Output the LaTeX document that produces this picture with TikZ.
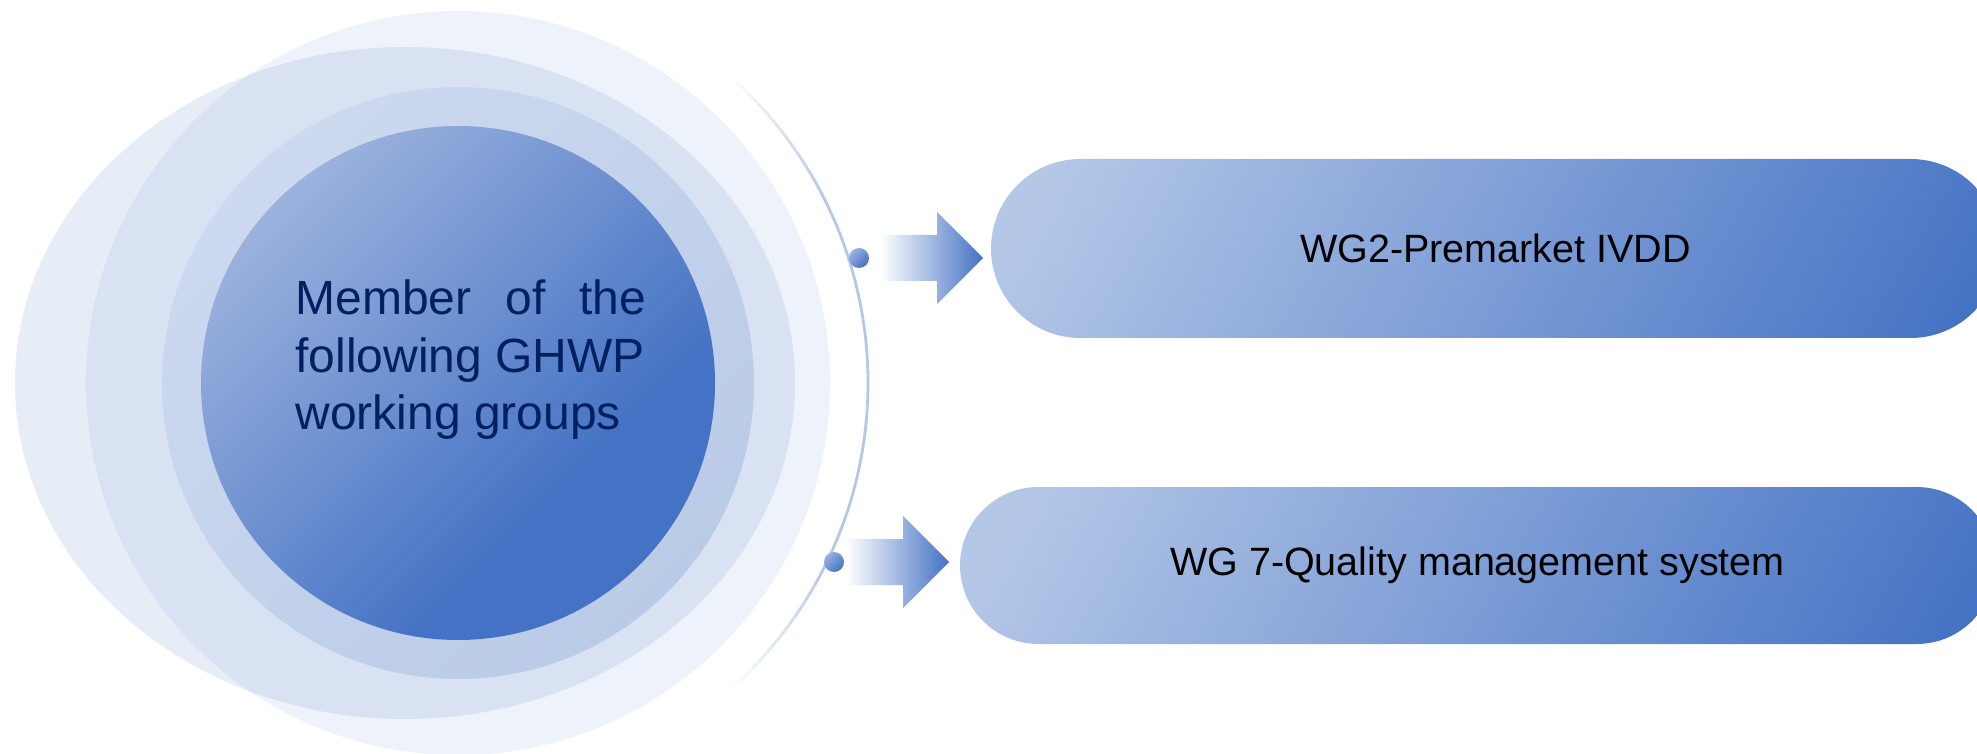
\documentclass[tikz,border=0pt]{standalone}
\usepackage{fontspec}
\setmainfont{Liberation Sans}
\usetikzlibrary{shapes.misc,calc}
\definecolor{mainblue}{HTML}{4472C4}
\definecolor{lightblue}{HTML}{B4C7E7}
\definecolor{navy}{HTML}{002060}
\definecolor{corelight}{HTML}{9BB2DD}
\definecolor{ringlight}{HTML}{CCD9EF}
\definecolor{ringdark}{HTML}{BACBE7}
\definecolor{dotlight}{HTML}{9AB2DE}
\pgfdeclarehorizontalshading{coreshade}{100bp}{color(0bp)=(corelight); color(25bp)=(corelight); color(65bp)=(mainblue); color(100bp)=(mainblue)}
\pgfdeclarehorizontalshading{boxshade}{100bp}{color(0bp)=(lightblue); color(20bp)=(lightblue); color(82bp)=(mainblue); color(100bp)=(mainblue)}
\begin{document}
\begin{tikzpicture}[x=0.5pt,y=-0.5pt,
  halo/.style={fill=mainblue},
  dotball/.style={circle, minimum size=10pt, inner sep=0pt, left color=dotlight, right color=mainblue, shading angle=45},
  pill/.style={rounded rectangle, inner sep=0pt, shading=boxshade, shading angle=-30, font=\fontsize{19.75}{23}\selectfont, text=black},
  blockarrow/.pic={\shade[left color=white, right color=mainblue] (0,-23) -- (57,-23) -- (57,-46) -- (103,0) -- (57,46) -- (57,23) -- (0,23) -- cycle;}]
\useasboundingbox (0,0) rectangle (1977,754);
\clip (0,0) rectangle (1977,754);
\coordinate (c) at (458,383);
% halos
\fill[halo, fill opacity=0.13] (405,383) ellipse [x radius=390, y radius=336];
\fill[halo, fill opacity=0.09] (c) circle [radius=372];
\shade[left color=ringlight, right color=ringdark, shading angle=45] (c) circle [radius=296];
\shade[shading=coreshade, shading angle=-45] (c) circle [radius=257];
% title
\node[anchor=base west, inner sep=0pt, text=navy, font=\fontsize{24}{28.75}\selectfont] (title) at (295,315)
  {\parbox[t]{175.5pt}{\makebox[175.5pt][s]{Member of the}\\following GHWP\\working groups}};
% thin arc fading at its ends
\foreach \a in {-49,...,48}{
  \pgfmathtruncatemacro\p{100*min(1,(49-abs(\a+0.5))/22)}
  \draw[line width=1.4pt, lightblue!\p!white] ($(c)+(\a:410)$) arc[start angle=\a, end angle=\a+1, radius=410];
}
% dots
\node[dotball] (d1) at (859,258) {};
\node[dotball] (d2) at (834,562) {};
% arrows
\coordinate (a1) at (880,258);
\coordinate (a2) at (846,562);
\pic at (a1) {blockarrow};
\pic at (a2) {blockarrow};
% boxes
\node[pill, minimum width=504.5pt, minimum height=89.5pt] (wg2) at (1495.5,248.5) {WG2-Premarket IVDD};
\node[pill, minimum width=517.5pt, minimum height=78.5pt] (wg7) at (1477.5,565.5) {WG 7-Quality management system};
\end{tikzpicture}
\end{document}
